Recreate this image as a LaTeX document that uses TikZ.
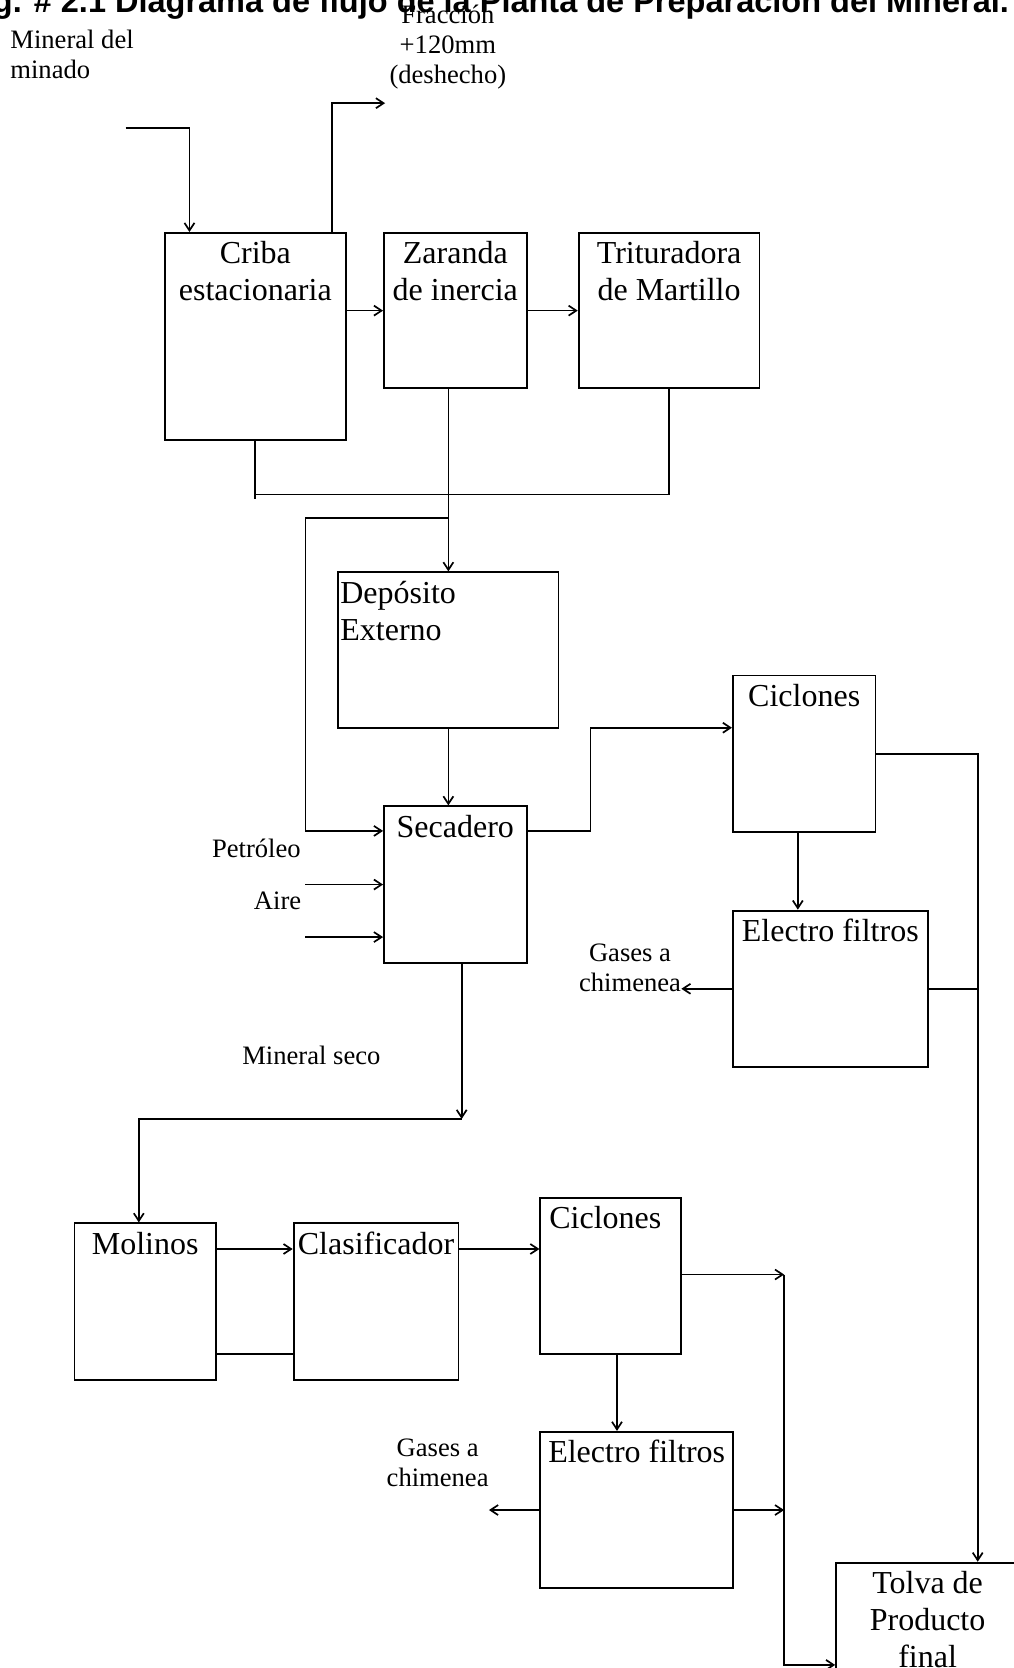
\documentclass[tikz,border=0pt]{standalone}
\usepackage{fontspec}
\setmainfont{Liberation Serif}
\newfontfamily\titlefont{Liberation Sans}
\usetikzlibrary{fit,arrows.meta}

\begin{document}
\begin{tikzpicture}[x=0.532pt,y=-0.532pt,
  unit/.style={draw,line width=0.95pt,inner sep=0pt},
  boxlbl/.style={anchor=north,inner sep=0pt,align=center,font=\fontsize{16}{18.6}\selectfont},
  txt/.style={inner sep=0pt,align=center,font=\fontsize{13.3}{15}\selectfont},
  flow/.style={line width=0.85pt,-{Straight Barb[length=3.8pt,width=5pt]}},
  pipe/.style={line width=0.85pt}]

\useasboundingbox (0,0) rectangle (953,1568);

\node[anchor=base west,inner sep=0pt,font=\titlefont\bfseries\fontsize{16.25}{18}\selectfont] at (-34.2,12) (title) {Fig. \# 2.1 Diagrama de flujo de la Planta de Preparación del Mineral.};

%%%%%%%%%%%%%%%%%%%%%%%%%%%%%%%%%%%%%%
\node[unit,fit={(155,219) (325,414)}] (criba) {};
\node[boxlbl] at ([shift={(0,8.5)}]criba.north) (criba-t) {Criba\\estacionaria};
\node[unit,fit={(361,219) (495,365)}] (zar) {};
\node[boxlbl] at ([shift={(0,8.5)}]zar.north) (zar-t) {Zaranda\\de inercia};
\node[unit,fit={(544,219) (714,365)}] (trit) {};
\node[boxlbl] at ([shift={(0,8.5)}]trit.north) (trit-t) {Trituradora\\de Martillo};

\node[unit,fit={(318,538) (525,684)}] (dep) {};
\node[boxlbl,anchor=north west,align=left] at ([shift={(2.5,8.5)}]dep.north west) (dep-t) {Depósito\\Externo};
\node[unit,fit={(361,758) (495,905)}] (sec) {};
\node[boxlbl] at ([shift={(0,8.5)}]sec.north) (sec-t) {Secadero};

\node[unit,fit={(689,635) (823,782)}] (cicA) {};
\node[boxlbl] at ([shift={(0,8.5)}]cicA.north) (cicA-t) {Ciclones};
\node[unit,fit={(689,856) (872,1003)}] (elecA) {};
\node[boxlbl] at ([shift={(0,8.5)}]elecA.north) (elecA-t) {Electro filtros};

\node[unit,fit={(70,1150) (203,1297)}] (mol) {};
\node[boxlbl] at ([shift={(0,8.5)}]mol.north) (mol-t) {Molinos};
\node[unit,fit={(276,1150) (431,1297)}] (clas) {};
\node[boxlbl] at ([shift={(0,8.5)}]clas.north) (clas-t) {Clasificador};
\node[unit,fit={(508,1126) (640,1273)}] (cicB) {};
\node[boxlbl] at ([shift={(-5,8.5)}]cicB.north) (cicB-t) {Ciclones};
\node[unit,fit={(508,1346) (689,1493)}] (elecB) {};
\node[boxlbl] at ([shift={(0,8.5)}]elecB.north) (elecB-t) {Electro filtros};

\node[unit,fit={(786,1469) (958,1620)}] (tolva) {};
\node[boxlbl] at ([shift={(0,8.5)}]tolva.north) (tolva-t) {Tolva de\\Producto\\final};

% textos
\node[txt,anchor=north west,align=left] at (9.4,28.3) (feed-t) {Mineral del\\minado};
\node[txt,anchor=north] at (421,4.7) (waste-t) {Fracción\\+120mm\\(deshecho)};
\node[txt,anchor=base east] at (283,806) (petro) {Petróleo};
\node[txt,anchor=base east] at (283.5,855) (aire) {Aire};
\node[txt,anchor=north east] at (640.5,887) (gasA) {Gases a\\chimenea};
\node[txt,anchor=base] at (292.7,1001) (seco-t) {Mineral seco};
\node[txt,anchor=north] at (411.4,1352) (gasB) {Gases a\\chimenea};

\coordinate (feed) at (118,120);
\coordinate (waste) at (362,97);
\coordinate (byp) at ([shift={(0,-50)}]dep.north);
\coordinate (sec-in) at ([shift={(0,24)}]sec.north west);
\coordinate (cicA-in) at ([shift={(0,50)}]cicA.north west);
\coordinate (tolva-in) at ([shift={(134,0)}]tolva.north west);
\coordinate (tolva-side) at ([shift={(0,97)}]tolva.north west);
\coordinate (bus) at ([shift={(-48,0)}]tolva-side);

%%%%%%%%%%%%%%%%%%%%%%%%%%%%%%%%%%%%%%
\draw[flow] (feed) -| ([shift={(24,0)}]criba.north west);
\draw[flow] ([shift={(158,0)}]criba.north west) |- (waste);
\draw[flow] (criba.east |- zar.west) -- (zar.west);
\draw[flow] (zar.east) -- (trit.west);
\draw[pipe] (criba.south) -- ++(0,54);
\draw[pipe] ([shift={(0,50)}]criba.south) -| (trit.south);
\draw[flow] (zar.south -| dep.north) -- (dep.north);

\draw[flow] (byp) -| ([shift={(-73,0)}]sec-in) -- (sec-in);
\draw[flow] (dep.south) -- (dep.south |- sec.north);
\draw[flow] ([shift={(-73,0)}]sec.west) -- (sec.west);
\draw[flow] ([shift={(-73,-25)}]sec.south west) -- ([shift={(0,-25)}]sec.south west);
\draw[flow] (sec-in -| sec.east) -| ([shift={(-133,0)}]cicA-in) -- (cicA-in);

\draw[flow] ([shift={(-6,0)}]cicA.south) coordinate (c0) -- (c0 |- elecA.north);
\draw[flow] (cicA.east) -| (tolva-in);
\draw[pipe] (elecA.east) -- (elecA.east -| tolva-in);
\draw[flow] (elecA.west) -- (elecA.west -| gasA.east);

%%%%%%%%%%%%%%%%%%%%%%%%%%%%%%%%%%%%%%
\draw[flow] ([shift={(6,0)}]sec.south) coordinate (seco) -- ++(0,146);
\draw[flow] ([shift={(0,146)}]seco) -| ([shift={(-6,0)}]mol.north);
\draw[flow] ([shift={(0,25)}]mol.north east) coordinate (m1) -- (m1 -| clas.west);
\draw[pipe] ([shift={(0,-25)}]mol.south east) coordinate (m2) -- (m2 -| clas.west);
\draw[flow] ([shift={(0,25)}]clas.north east) coordinate (m3) -- (m3 -| cicB.west);
\draw[flow] ([shift={(0,73)}]cicB.north east) coordinate (m4) -- (m4 -| bus);
\draw[flow] (m4 -| bus) -- (bus) -- (tolva-side);
\draw[flow] ([shift={(6,0)}]cicB.south) coordinate (m5) -- (m5 |- elecB.north);
\draw[flow] (elecB.west) -- (elecB.west -| gasB.east);
\draw[flow] (elecB.east) -- (elecB.east -| bus);

\end{tikzpicture}
\end{document}
